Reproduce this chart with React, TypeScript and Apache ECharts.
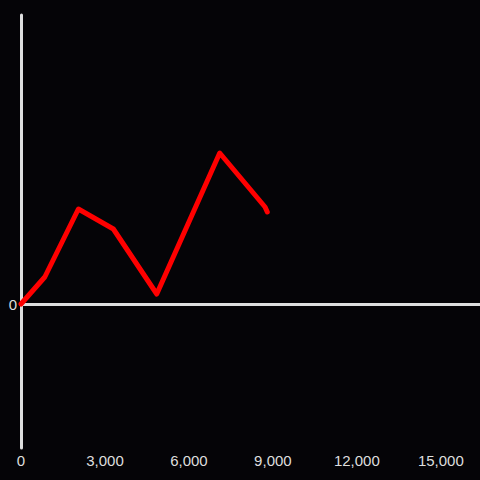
import React, { useEffect, useRef } from "react";
import * as echarts from "echarts";

const xValues = [0, 850, 2050, 3300, 4850, 7100, 8450, 8600, 8720, 8800];
const yValues = [0, 27, 95, 75, 10, 151, 106, 101, 97, 92];
const xTicks = [0, 3000, 6000, 9000, 12000, 15000];

export default function App() {
  const ref = useRef<HTMLDivElement>(null);
  useEffect(() => {
    if (!ref.current) return;
    const chart = echarts.init(ref.current, null, { renderer: "svg" });
    const axisColor = "#dedede";
    const font = "Liberation Sans, Arial, sans-serif";
    chart.setOption({
      animation: false,
      backgroundColor: "#050407",
      grid: { left: 21, right: 0, top: 15, bottom: 32, containLabel: false },
      xAxis: {
        type: "value",
        min: 0,
        max: 16400,
        interval: 3000,
        axisLine: { show: false, onZero: false },
        axisTick: { show: false },
        splitLine: { show: false },
        axisLabel: {
          color: axisColor,
          fontSize: 15,
          fontFamily: font,
          margin: 5,
          showMaxLabel: false,
          formatter: (v: number) => (xTicks.includes(v) ? v.toLocaleString("en-US") : ""),
        },
      },
      yAxis: {
        type: "value",
        min: -144,
        max: 289,
        interval: 144,
        axisLine: { show: true, lineStyle: { color: axisColor, width: 3 } },
        axisTick: { show: false },
        splitLine: { show: false },
        axisLabel: {
          color: axisColor,
          fontSize: 15,
          fontFamily: font,
          margin: 4,
          showMinLabel: true,
          showMaxLabel: false,
          formatter: (v: number) => (v === 0 ? "0" : ""),
        },
      },
      series: [
        {
          type: "line",
          data: xValues.map((x, i) => [x, yValues[i]]),
          showSymbol: false,
          symbol: "none",
          lineStyle: { color: "#ff0000", width: 5, cap: "round", join: "round" },
          z: 3,
          markLine: {
            silent: true,
            symbol: "none",
            label: { show: false },
            lineStyle: { color: axisColor, width: 3, type: "solid" },
            data: [{ yAxis: 0 }],
            z: 1,
          },
        },
      ],
    });
    return () => chart.dispose();
  }, []);
  return (
    <div
      ref={ref}
      style={{ position: "absolute", left: 0, top: 0, width: 480, height: 480 }}
    />
  );
}
